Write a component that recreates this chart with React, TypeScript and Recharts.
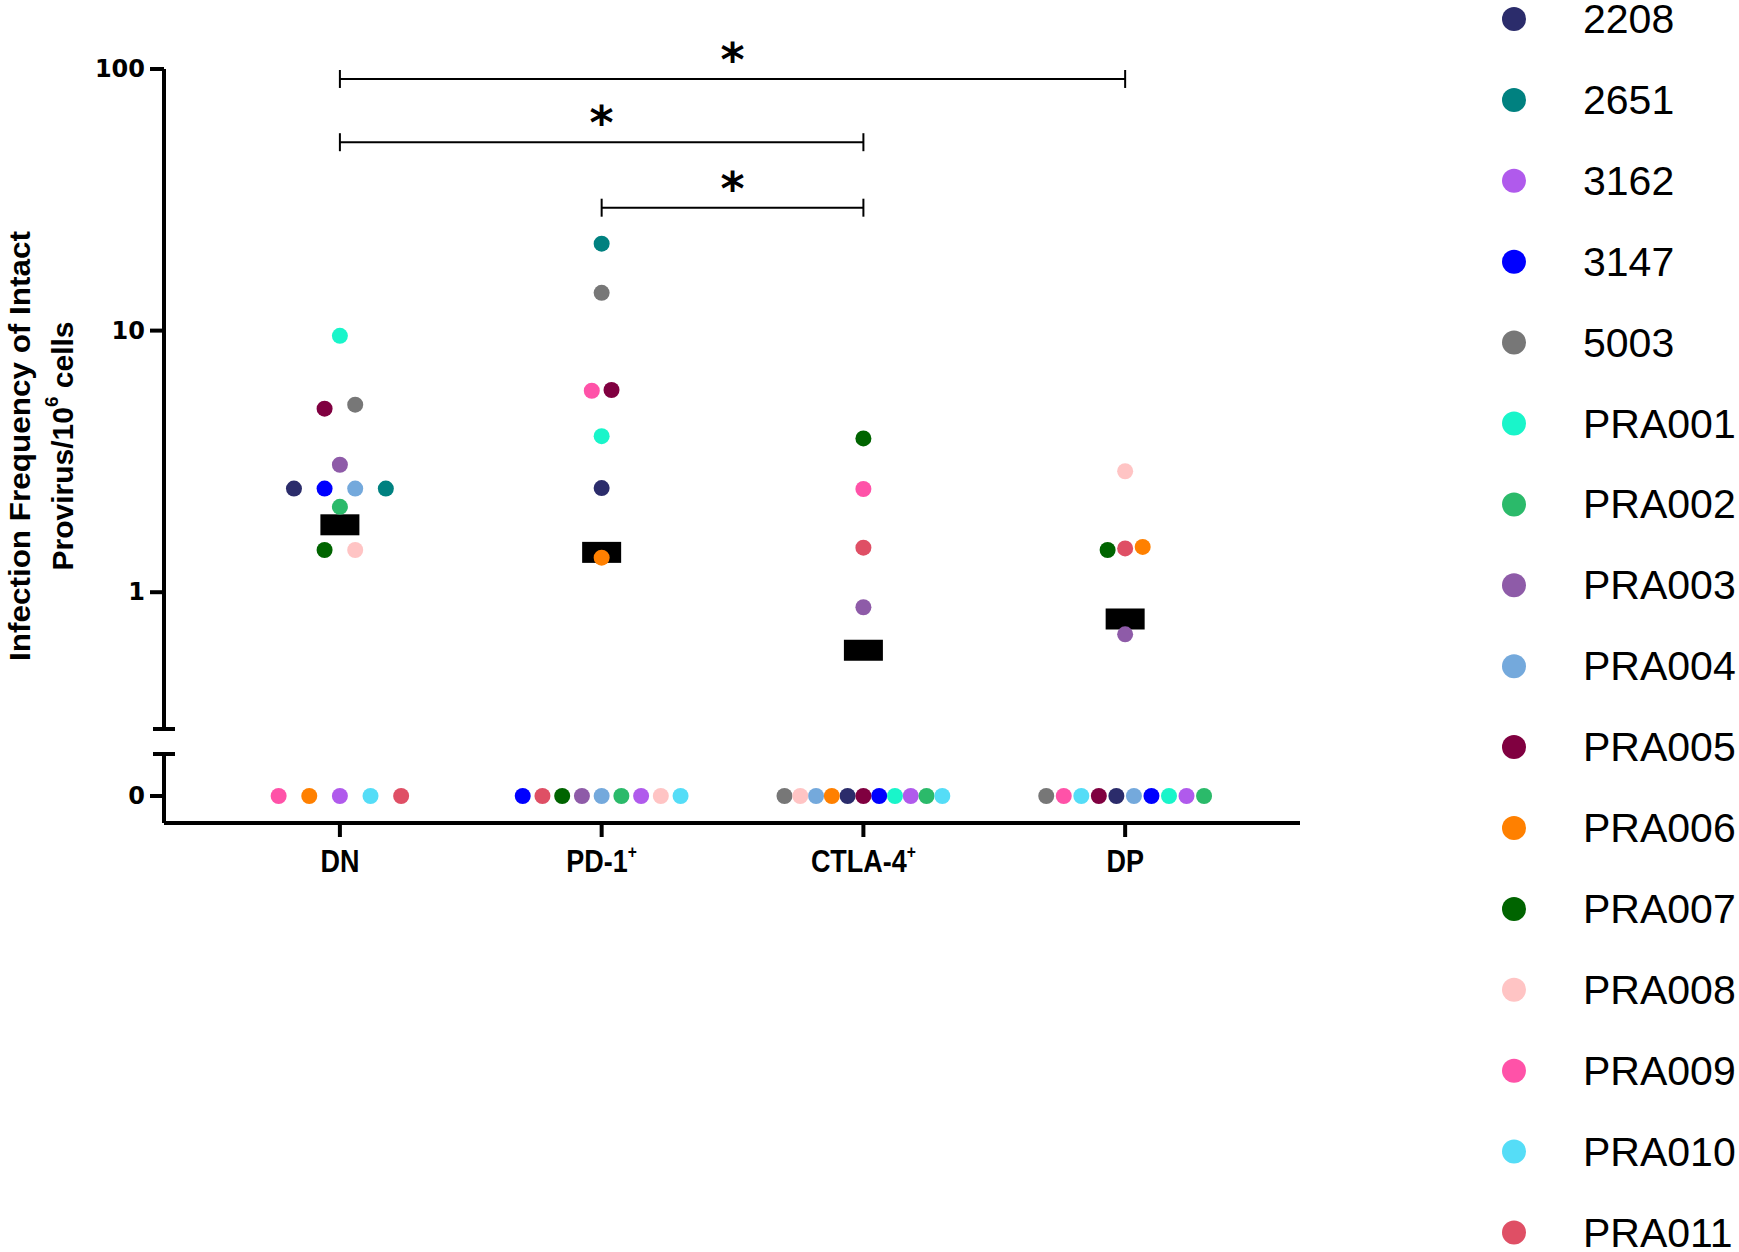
import React from 'react'
import { ScatterChart, Scatter, XAxis, YAxis, ReferenceLine } from 'recharts'

// categories and patients
const groups = ['DN', 'PD-1', 'CTLA-4', 'DP']
const groupSuperscripts = ['', '+', '+', '']
const patients = [
  '2208', '2651', '3162', '3147', '5003', 'PRA001', 'PRA002', 'PRA003',
  'PRA004', 'PRA005', 'PRA006', 'PRA007', 'PRA008', 'PRA009', 'PRA010', 'PRA011',
]
const patientColors = [
  '#2b2c6b', '#008180', '#b05aec', '#0000ff', '#777777', '#19f5ca', '#2bba6a', '#8e5ba8',
  '#74a9dc', '#800040', '#ff8000', '#006400', '#ffc4c4', '#ff52a8', '#55ddf7', '#df4f65',
]

// values per group, listed left-to-right as they sit in each row (0 = undetected)
const dnValues: [string, number][] = [
  ['PRA001', 9.55],
  ['PRA005', 5.03], ['5003', 5.21],
  ['PRA003', 3.07],
  ['2208', 2.49], ['3147', 2.49], ['PRA004', 2.49], ['2651', 2.49],
  ['PRA002', 2.12],
  ['PRA007', 1.45], ['PRA008', 1.45],
  ['PRA009', 0], ['PRA006', 0], ['3162', 0], ['PRA010', 0], ['PRA011', 0],
]
const pd1Values: [string, number][] = [
  ['2651', 21.5],
  ['5003', 13.95],
  ['PRA009', 5.89], ['PRA005', 5.93],
  ['PRA001', 3.95],
  ['2208', 2.5],
  ['PRA006', 1.355],
  ['3147', 0], ['PRA011', 0], ['PRA007', 0], ['PRA003', 0], ['PRA004', 0],
  ['PRA002', 0], ['3162', 0], ['PRA008', 0], ['PRA010', 0],
]
const ctla4Values: [string, number][] = [
  ['PRA007', 3.87],
  ['PRA009', 2.48],
  ['PRA011', 1.48],
  ['PRA003', 0.876],
  ['5003', 0], ['PRA008', 0], ['PRA004', 0], ['PRA006', 0], ['2208', 0], ['PRA005', 0],
  ['3147', 0], ['PRA001', 0], ['3162', 0], ['PRA002', 0], ['PRA010', 0],
]
const dpValues: [string, number][] = [
  ['PRA008', 2.9],
  ['PRA007', 1.45], ['PRA011', 1.47], ['PRA006', 1.49],
  ['PRA003', 0.69],
  ['5003', 0], ['PRA009', 0], ['PRA010', 0], ['PRA005', 0], ['2208', 0],
  ['PRA004', 0], ['3147', 0], ['PRA001', 0], ['3162', 0], ['PRA002', 0],
]
const groupValues = [dnValues, pd1Values, ctla4Values, dpValues]
const centerValues = [1.81, 1.42, 0.6, 0.79]

const upperTicks = [0.3, 1, 10, 100]
const lowerTicks = [0, 1]
const comparisons: [number, number][] = [[0, 3], [0, 2], [1, 2]]
const comparisonLevels = [91.6, 52.5, 29.5]
const comparisonLabels = ['*', '*', '*']

// layout
const X_DOMAIN: [number, number] = [-0.672, 3.668]
const UPPER_DOMAIN: [number, number] = [0.3, 100]
const LOWER_DOMAIN: [number, number] = [-0.642, 1]
const UPPER_CAP = 0.3
const LOWER_CAP = 1
const CAP_FACTOR = Math.pow(10, 9 / 261.7)
const BOLD_FONT = "'Liberation Sans', Arial, sans-serif"
const TICK_FONT = "'DejaVu Sans', sans-serif"

// spread points that would overlap, the way a column scatter does
function swarm(entries: [string, number][], gi: number) {
  const clusters: { key: number; items: [string, number][] }[] = []
  entries.forEach(e => {
    const v = e[1]
    const c = clusters.find(c =>
      v === 0 ? c.key === 0 : c.key > 0 && Math.abs(Math.log10(c.key) - Math.log10(v)) < 0.064
    )
    if (c) c.items.push(e)
    else clusters.push({ key: v, items: [e] })
  })
  const m = Math.max(...clusters.map(c => c.items.length))
  const step = m > 1 ? Math.min(0.117, 0.603 / (m - 1)) : 0
  return clusters.flatMap(c =>
    c.items.map((e, k) => ({ patient: e[0], x: gi + (k - (c.items.length - 1) / 2) * step, y: e[1] }))
  )
}

const allPoints = groupValues.flatMap((vals, gi) => swarm(vals, gi))
const series = patients.map((p, i) => ({
  name: p,
  color: patientColors[i],
  upper: allPoints.filter(pt => pt.patient === p && pt.y > 0),
  lower: allPoints.filter(pt => pt.patient === p && pt.y === 0),
}))
const centerData = centerValues.map((v, i) => ({ x: i, y: v }))

const Dot = (p: any) => <circle cx={p.cx} cy={p.cy} r={8} fill={p.fill} />
const CenterBar = (p: any) => <rect x={p.cx - 19.5} y={p.cy - 10.5} width={39} height={21} fill="#000" />

const renderYTick = (cap: number) => (props: any) => {
  const { x, y, payload } = props
  if (payload.value === cap) {
    return <line x1={x - 11} x2={x + 11} y1={y} y2={y} stroke="#000" strokeWidth={4} />
  }
  return (
    <g>
      <line x1={x - 14} x2={x} y1={y} y2={y} stroke="#000" strokeWidth={4} />
      <text x={x - 19} y={y} textAnchor="end" dominantBaseline="central"
        fontFamily={TICK_FONT} fontWeight="bold" fontSize={24} fill="#000">
        {payload.value}
      </text>
    </g>
  )
}

const renderXTick = (props: any) => {
  const { x, y, payload } = props
  const i = payload.value
  return (
    <g>
      <line x1={x} x2={x} y1={y} y2={y + 14} stroke="#000" strokeWidth={4} />
      <g transform={`translate(${x} ${y + 49}) scale(0.87 1)`}>
        <text x={0} y={0} textAnchor="middle" fontFamily={BOLD_FONT} fontWeight="bold" fontSize={31} fill="#000">
          {groups[i]}
          {groupSuperscripts[i] && <tspan dy={-14} fontSize={18}>{groupSuperscripts[i]}</tspan>}
        </text>
      </g>
    </g>
  )
}

const renderStar = (text: string) => (props: any) => {
  const vb = props.viewBox
  return (
    <text x={vb.x + vb.width / 2} y={vb.y - 3} textAnchor="middle"
      fontFamily={TICK_FONT} fontWeight="bold" fontSize={46} fill="#000">
      {text}
    </text>
  )
}

const axisLine = { stroke: '#000', strokeWidth: 4 }

export default function App() {
  return (
    <div style={{ position: 'absolute', left: 0, top: 0, width: 1739, height: 1252, overflow: 'hidden', background: '#fff' }}>
      <div style={{ position: 'absolute', left: 0, top: 0 }}>
        <ScatterChart width={1320} height={740} margin={{ top: 69, right: 20, bottom: 11, left: 64 }}>
          <XAxis type="number" dataKey="x" domain={X_DOMAIN} allowDataOverflow hide />
          <YAxis type="number" dataKey="y" scale="log" domain={UPPER_DOMAIN} allowDataOverflow
            ticks={upperTicks} interval={0} width={100} tickSize={0} tickMargin={0} tickLine={false}
            axisLine={axisLine} tick={renderYTick(UPPER_CAP)} />
          {comparisons.map(([a, b], k) => (
            <ReferenceLine key={`c${k}`} segment={[{ x: a, y: comparisonLevels[k] }, { x: b, y: comparisonLevels[k] }]}
              stroke="#000" strokeWidth={2} label={renderStar(comparisonLabels[k])} />
          ))}
          {comparisons.flatMap(([a, b], k) => [a, b].map(g => (
            <ReferenceLine key={`e${k}-${g}`}
              segment={[{ x: g, y: comparisonLevels[k] / CAP_FACTOR }, { x: g, y: comparisonLevels[k] * CAP_FACTOR }]}
              stroke="#000" strokeWidth={2} />
          )))}
          <Scatter data={centerData} shape={CenterBar} isAnimationActive={false} />
          {series.map(s => (
            <Scatter key={s.name} name={s.name} data={s.upper} fill={s.color} shape={Dot} isAnimationActive={false} />
          ))}
        </ScatterChart>
      </div>
      <div style={{ position: 'absolute', left: 0, top: 740 }}>
        <ScatterChart width={1320} height={160} margin={{ top: 14, right: 20, bottom: 27, left: 64 }}>
          <XAxis type="number" dataKey="x" domain={X_DOMAIN} allowDataOverflow ticks={[0, 1, 2, 3]}
            interval={0} height={50} tickSize={0} tickMargin={0} tickLine={false}
            axisLine={axisLine} tick={renderXTick} />
          <YAxis type="number" dataKey="y" domain={LOWER_DOMAIN} allowDataOverflow
            ticks={lowerTicks} interval={0} width={100} tickSize={0} tickMargin={0} tickLine={false}
            axisLine={axisLine} tick={renderYTick(LOWER_CAP)} />
          {series.map(s => (
            <Scatter key={s.name} name={s.name} data={s.lower} fill={s.color} shape={Dot} isAnimationActive={false} />
          ))}
        </ScatterChart>
      </div>
      <svg width={1739} height={1252} style={{ position: 'absolute', left: 0, top: 0, pointerEvents: 'none' }}>
        <g fontFamily={BOLD_FONT} fontWeight="bold" fontSize={30} fill="#000">
          <text x={19} y={446} transform="rotate(-90 19 446)" textAnchor="middle" dominantBaseline="central"
            textLength={430} lengthAdjust="spacingAndGlyphs">
            Infection Frequency of Intact
          </text>
          <text x={62} y={446} transform="rotate(-90 62 446)" textAnchor="middle" dominantBaseline="central">
            Provirus/10<tspan dy={-11} fontSize={19}>6</tspan><tspan dy={11}> cells</tspan>
          </text>
        </g>
        {series.map((s, i) => (
          <g key={s.name}>
            <circle cx={1514} cy={19 + i * 80.9} r={12} fill={s.color} />
            <text x={1583} y={19 + i * 80.9} dominantBaseline="central"
              fontFamily={BOLD_FONT} fontSize={41} fill="#000">
              {s.name}
            </text>
          </g>
        ))}
      </svg>
    </div>
  )
}
